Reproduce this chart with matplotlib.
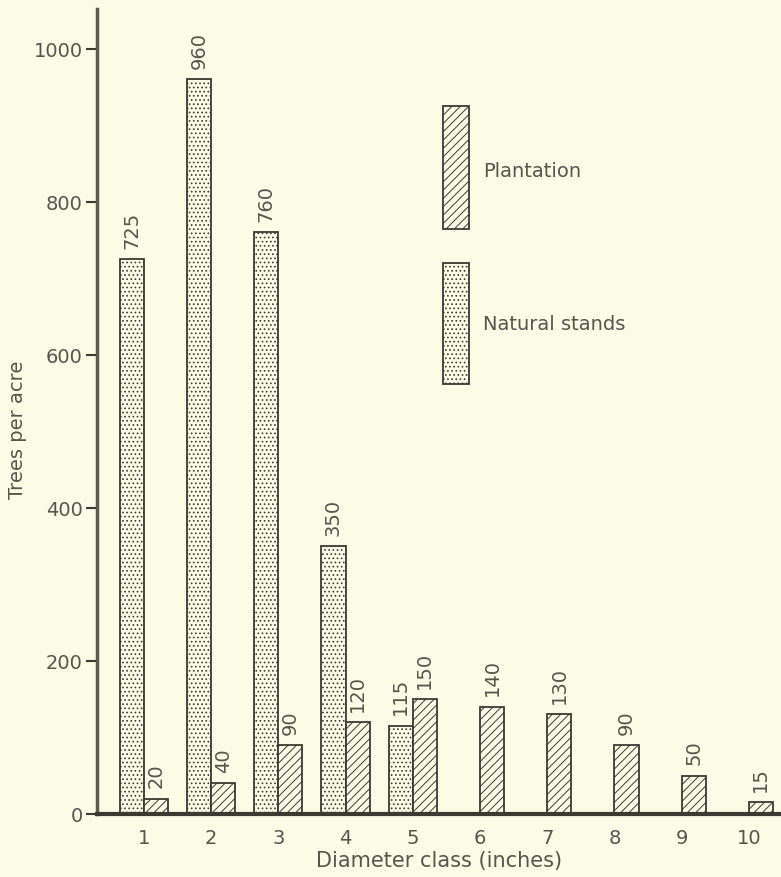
import numpy as np
import matplotlib.pyplot as plt
from matplotlib.patches import Rectangle

plt.rcParams['hatch.linewidth'] = 0.7

# Trees per acre by diameter class
classes = [1, 2, 3, 4, 5, 6, 7, 8, 9, 10]
natural = [725, 960, 760, 350, 115]
plantation = [20, 40, 90, 120, 150, 140, 130, 90, 50, 15]
y_ticks = [0, 200, 400, 600, 800, 1000]

bg_color = '#fbfbe6'
ink = '#3c3a33'
text_color = '#57554c'
font = ['DejaVu Sans']

fig = plt.figure(figsize=(7.81, 8.78), dpi=100, facecolor=bg_color)
ax = fig.add_axes([0.124, 0.0718, 0.876, 0.917])
ax.set_facecolor(bg_color)

width = 0.36
nat_x = np.array(classes[:len(natural)]) - width / 2
pla_x = np.array(classes) + width / 2

ax.bar(nat_x, natural, width=width, facecolor=bg_color, edgecolor=ink,
       linewidth=1.3, hatch='....')
ax.bar(pla_x, plantation, width=width, facecolor=bg_color, edgecolor=ink,
       linewidth=1.3, hatch='////')

# value labels above the bars
for x, v in zip(nat_x, natural):
    ax.text(x, v + 15, str(v), rotation=90, ha='center', va='bottom',
            fontsize=14, color=text_color, family=font)
for x, v in zip(pla_x, plantation):
    ax.text(x, v + 15, str(v), rotation=90, ha='center', va='bottom',
            fontsize=14, color=text_color, family=font)

ax.set_xlim(0.3, 10.48)
ax.set_ylim(0, 1052)
ax.set_yticks(y_ticks)
ax.set_yticklabels([str(t) for t in y_ticks], family=font, fontsize=14, color=text_color)
ax.set_xticks(classes)
ax.set_xticklabels([str(c) for c in classes], family=font, fontsize=14, color=text_color)
ax.tick_params(axis='x', length=0, pad=10)
ax.tick_params(axis='y', length=8, width=1.5, color=ink, pad=2)

for side in ['top', 'right']:
    ax.spines[side].set_visible(False)
ax.spines['left'].set_linewidth(2.5)
ax.spines['left'].set_color('#5e5a4e')
ax.spines['bottom'].set_linewidth(3)
ax.spines['bottom'].set_color(ink)

ax.set_ylabel('Trees per acre', family=font, fontsize=14, color=text_color)
ax.yaxis.set_label_coords(-0.102, 0.478)
ax.set_xlabel('Diameter class (inches)', family=font, fontsize=15, color=text_color, labelpad=2)

# legend drawn by hand
ax.add_patch(Rectangle((0.506, 0.727), 0.038, 0.152, transform=ax.transAxes,
                       facecolor=bg_color, edgecolor=ink, linewidth=1.3,
                       hatch='////', clip_on=False))
ax.add_patch(Rectangle((0.506, 0.534), 0.038, 0.150, transform=ax.transAxes,
                       facecolor=bg_color, edgecolor=ink, linewidth=1.3,
                       hatch='....', clip_on=False))
ax.text(0.564, 0.799, 'Plantation', transform=ax.transAxes, va='center',
        fontsize=14, color=text_color, family=font)
ax.text(0.564, 0.609, 'Natural stands', transform=ax.transAxes, va='center',
        fontsize=14, color=text_color, family=font)

fig.savefig('out.png', dpi=100, facecolor=bg_color)
